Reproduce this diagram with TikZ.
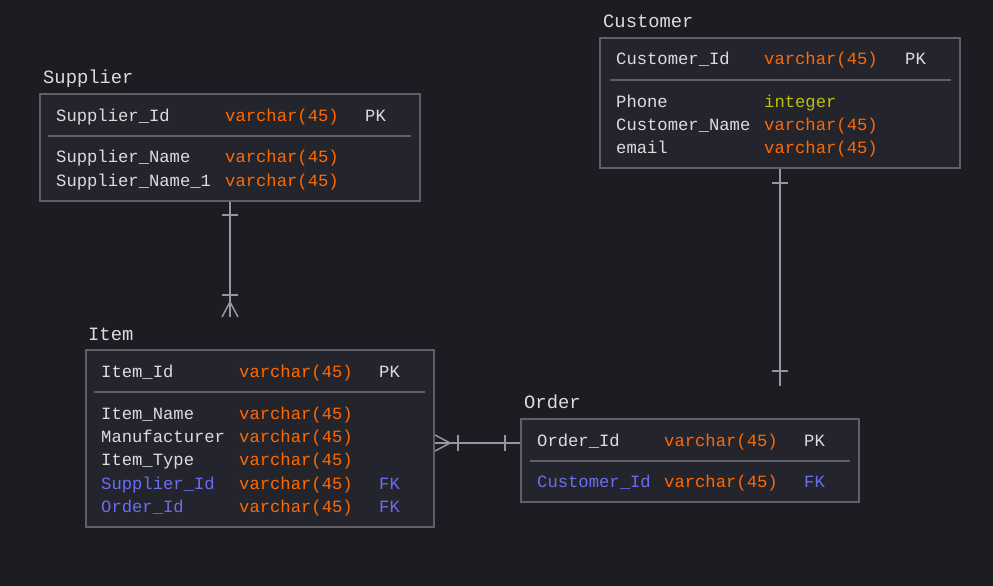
\documentclass[tikz,border=0pt]{standalone}
\usepackage{fontspec}
\setmonofont{Liberation Mono}
\usetikzlibrary{calc,positioning}

\definecolor{canvas}{RGB}{28,28,35}
\definecolor{tablebg}{RGB}{36,36,45}
\definecolor{frame}{RGB}{95,95,106}
\definecolor{wire}{RGB}{150,150,162}
\definecolor{plain}{RGB}{220,220,222}
\definecolor{vchar}{RGB}{255,106,0}
\definecolor{intg}{RGB}{190,190,10}
\definecolor{fkblue}{RGB}{105,110,240}

\begin{document}
\begin{tikzpicture}
[
	              x = 1pt,
	              y = -1pt,
	           font = \ttfamily\fontsize{17.2}{20}\selectfont,
	   table/.style = { draw=frame, fill=tablebg, line width=2pt, rectangle, inner sep=0pt },
	   title/.style = { anchor=base west, text=plain, inner sep=0pt, font=\ttfamily\fontsize{18.8}{22}\selectfont },
	   field/.style = { anchor=base west, text=plain, inner sep=0pt },
	   vtype/.style = { field, text=vchar },
	   itype/.style = { field, text=intg },
	    fkey/.style = { field, text=fkblue },
	    rule/.style = { draw=frame, line width=1.5pt },
	    link/.style = { draw=wire, line width=1.5pt }
]
	\fill [canvas] (0,0) rectangle (993,586);
	\useasboundingbox (0,0) rectangle (993,586);

	% tables
	\node (supplier) at (230,147.5) [table, minimum width=380pt, minimum height=107pt] {};
	\node (customer) at (780,103)   [table, minimum width=360pt, minimum height=130pt] {};
	\node (item)     at (260,438.5) [table, minimum width=348pt, minimum height=177pt] {};
	\node (order)    at (690,460.5) [table, minimum width=338pt, minimum height=83pt]  {};

	% titles
	\node (supplierTitle) at (43,83)  [title] {Supplier};
	\node (customerTitle) at (603,28) [title] {Customer};
	\node (itemTitle)     at (88,340) [title] {Item};
	\node (orderTitle)    at (524,408)[title] {Order};

	% supplier
	\node (supId)    at (56,121)  [field] {Supplier\_Id};
	\node (supIdT)   at (225,121) [vtype] {varchar(45)};
	\node (supIdK)   at (365,121) [field] {PK};
	\draw [rule] (48,136) -- (411,136);
	\node (supName)  at (56,162)  [field] {Supplier\_Name};
	\node (supNameT) at (225,162) [vtype] {varchar(45)};
	\node (supNm1)   at (56,186)  [field] {Supplier\_Name\_1};
	\node (supNm1T)  at (225,186) [vtype] {varchar(45)};

	% customer
	\node (cusId)    at (616,65)  [field] {Customer\_Id};
	\node (cusIdT)   at (764,65)  [vtype] {varchar(45)};
	\node (cusIdK)   at (905,65)  [field] {PK};
	\draw [rule] (610,80) -- (951,80);
	\node (cusPhone) at (616,107) [field] {Phone};
	\node (cusPhoneT)at (764,107) [itype] {integer};
	\node (cusName)  at (616,130) [field] {Customer\_Name};
	\node (cusNameT) at (764,130) [vtype] {varchar(45)};
	\node (cusMail)  at (616,153) [field] {email};
	\node (cusMailT) at (764,153) [vtype] {varchar(45)};

	% item
	\node (itmId)    at (101,377) [field] {Item\_Id};
	\node (itmIdT)   at (239,377) [vtype] {varchar(45)};
	\node (itmIdK)   at (379,377) [field] {PK};
	\draw [rule] (94,392) -- (425,392);
	\node (itmName)  at (101,419) [field] {Item\_Name};
	\node (itmNameT) at (239,419) [vtype] {varchar(45)};
	\node (itmMan)   at (101,442) [field] {Manufacturer};
	\node (itmManT)  at (239,442) [vtype] {varchar(45)};
	\node (itmType)  at (101,465) [field] {Item\_Type};
	\node (itmTypeT) at (239,465) [vtype] {varchar(45)};
	\node (itmSup)   at (101,489) [fkey]  {Supplier\_Id};
	\node (itmSupT)  at (239,489) [vtype] {varchar(45)};
	\node (itmSupK)  at (379,489) [fkey]  {FK};
	\node (itmOrd)   at (101,512) [fkey]  {Order\_Id};
	\node (itmOrdT)  at (239,512) [vtype] {varchar(45)};
	\node (itmOrdK)  at (379,512) [fkey]  {FK};

	% order
	\node (ordId)    at (537,446) [field] {Order\_Id};
	\node (ordIdT)   at (664,446) [vtype] {varchar(45)};
	\node (ordIdK)   at (804,446) [field] {PK};
	\draw [rule] (530,461) -- (850,461);
	\node (ordCus)   at (537,487) [fkey]  {Customer\_Id};
	\node (ordCusT)  at (664,487) [vtype] {varchar(45)};
	\node (ordCusK)  at (804,487) [fkey]  {FK};

	% edges
	\coordinate (itemFoot) at (supplier.south |- 0,317);
	\draw [link] (supplier.south) -- (itemFoot);
	\draw [link] ($(supplier.south)+(-8,13)$) -- ++(16,0);
	\draw [link] ($(itemFoot)+(-8,-22)$) -- ++(16,0);
	\draw [link] ($(itemFoot)+(-8,0)$) -- ($(itemFoot)+(0,-15)$) -- ($(itemFoot)+(8,0)$);

	\coordinate (orderTop) at (customer.south |- 0,386);
	\draw [link] (customer.south) -- (orderTop);
	\draw [link] ($(customer.south)+(-8,14)$) -- ++(16,0);
	\draw [link] ($(orderTop)+(-8,-15)$) -- ++(16,0);

	\coordinate (itemSide)  at (item.east |- 0,443);
	\coordinate (orderSide) at (order.west |- 0,443);
	\draw [link] (itemSide) -- (orderSide);
	\draw [link] ($(itemSide)+(0,-8)$) -- ($(itemSide)+(15,0)$) -- ($(itemSide)+(0,8)$);
	\draw [link] ($(itemSide)+(23,-8)$) -- ++(0,16);
	\draw [link] ($(orderSide)+(-15,-8)$) -- ++(0,16);

\end{tikzpicture}
\end{document}
